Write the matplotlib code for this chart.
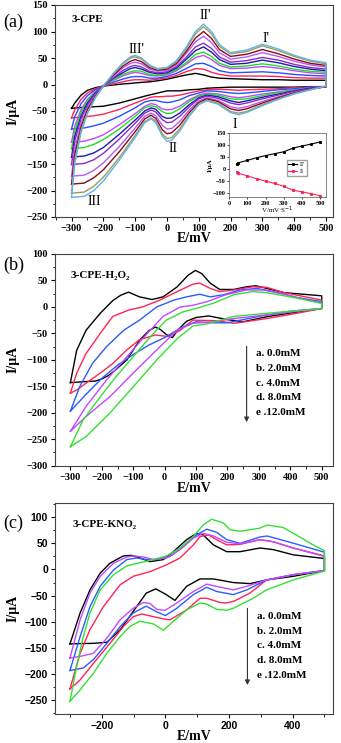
import matplotlib.pyplot as plt
from matplotlib.ticker import MultipleLocator

# ---------------- panel (a): CVs of 3-CPE at increasing scan rates ----------------
a_E_up = [-300, -290, -270, -250, -225, -200, -170, -140, -115, -100, -80, -55, -30, 0,
          30, 60, 90, 115, 140, 165, 200, 250, 300, 350, 400, 450, 500]
a_E_dn = [500, 450, 400, 350, 300, 250, 225, 200, 160, 125, 100, 70, 40, 15, 0,
          -15, -35, -50, -70, -100, -150, -200, -230, -260, -300]

a_up = [
    [-45, -35, -20, -11, -6, -3, -1, 1, 2, 3, 4, 5, 7, 10, 14, 18, 21, 18, 14, 12, 11, 10, 9, 9, 8, 8, 8],
    [-63, -48, -28, -16, -8, -3, 1, 5, 8, 9, 9, 8, 10, 12, 17, 24, 30, 29, 23, 19, 16, 16, 16, 15, 13, 12, 12],
    [-84, -61, -36, -21, -10, -3, 4, 10, 14, 15, 15, 12, 12, 15, 21, 30, 39, 40, 34, 26, 22, 23, 24, 22, 19, 17, 16],
    [-109, -79, -47, -28, -13, -3, 7, 16, 21, 23, 21, 17, 16, 18, 26, 38, 51, 55, 47, 36, 30, 31, 34, 31, 26, 22, 20],
    [-121, -87, -52, -31, -15, -3, 8, 19, 24, 26, 25, 19, 17, 20, 28, 41, 57, 61, 53, 40, 33, 35, 39, 35, 29, 25, 23],
    [-137, -98, -59, -35, -16, -3, 11, 22, 30, 32, 29, 23, 20, 22, 31, 47, 64, 71, 61, 47, 38, 40, 46, 41, 34, 29, 26],
    [-151, -107, -64, -39, -18, -3, 12, 26, 34, 36, 33, 25, 22, 24, 34, 51, 71, 78, 68, 52, 42, 45, 51, 46, 38, 32, 29],
    [-173, -122, -73, -44, -20, -3, 15, 31, 40, 42, 39, 29, 25, 27, 38, 58, 81, 91, 79, 60, 48, 52, 60, 53, 44, 37, 33],
    [-188, -133, -80, -48, -22, -3, 17, 34, 44, 47, 43, 32, 27, 29, 40, 62, 88, 100, 87, 66, 53, 57, 66, 58, 48, 40, 36],
    [-205, -144, -86, -53, -24, -3, 19, 38, 50, 52, 48, 35, 29, 31, 43, 67, 96, 109, 96, 72, 58, 62, 73, 64, 53, 44, 39],
    [-213, -150, -90, -55, -25, -3, 20, 40, 52, 55, 50, 37, 30, 32, 45, 70, 100, 114, 100, 75, 60, 65, 76, 67, 55, 46, 41],
]
a_dn = [
    [-4, -4, -5, -5, -5, -5, -5, -5, -6, -7, -9, -10, -12, -12, -12, -14, -17, -19, -22, -27, -35, -41, -42, -43, -45],
    [-4, -5, -6, -8, -9, -10, -11, -10, -9, -10, -12, -16, -20, -22, -22, -23, -23, -24, -28, -35, -47, -56, -59, -61, -63],
    [-4, -5, -8, -10, -13, -16, -17, -16, -13, -12, -16, -21, -29, -33, -34, -33, -30, -30, -33, -44, -60, -73, -78, -82, -84],
    [-4, -6, -10, -14, -18, -23, -25, -23, -18, -16, -20, -29, -41, -47, -48, -46, -38, -36, -41, -55, -76, -95, -102, -107, -109],
    [-4, -7, -11, -15, -21, -27, -28, -27, -20, -18, -22, -32, -46, -54, -55, -51, -42, -40, -44, -60, -84, -104, -113, -119, -121],
    [-4, -7, -12, -18, -24, -31, -34, -31, -23, -20, -25, -38, -54, -63, -64, -60, -47, -44, -50, -67, -94, -119, -129, -135, -137],
    [-4, -8, -13, -20, -27, -35, -38, -35, -26, -22, -27, -42, -60, -71, -72, -66, -52, -48, -54, -73, -103, -130, -142, -149, -151],
    [-4, -9, -15, -23, -32, -42, -45, -42, -30, -25, -31, -48, -70, -83, -84, -77, -59, -54, -60, -82, -117, -148, -162, -171, -173],
    [-4, -9, -16, -25, -35, -46, -49, -46, -32, -27, -34, -53, -77, -91, -93, -85, -64, -58, -65, -89, -127, -161, -176, -186, -188],
    [-3, -10, -17, -27, -38, -51, -54, -51, -35, -30, -37, -58, -84, -100, -102, -93, -69, -63, -70, -96, -138, -175, -192, -203, -205],
    [-3, -10, -18, -28, -40, -53, -57, -53, -37, -31, -38, -60, -88, -105, -107, -97, -72, -65, -72, -100, -143, -182, -200, -211, -213],
]
a_colors = ['#000000', '#ff2457', '#2450ff', '#c348ff', '#22dd22', '#1c1ca8',
            '#8a2ad0', '#b75cf0', '#8a0a22', '#9c9c5a', '#5fb3ea']

# inset: peak currents vs scan rate
inset_v = [40, 50, 100, 150, 200, 250, 300, 350, 400, 450, 500]
inset_II_prime = [22, 27, 37, 48, 57, 65, 73, 88, 97, 105, 114]
inset_II = [-13, -17, -28, -40, -50, -60, -72, -88, -95, -103, -111]

# ---------------- panel (b): 3-CPE with H2O2 ----------------
b_labels = ['a. 0.0mM', 'b. 2.0mM', 'c. 4.0mM', 'd. 8.0mM', 'e .12.0mM']
b_colors = ['#000000', '#ff2457', '#2a5cff', '#c348ff', '#33e033']
b_E_up = [
    [-300, -280, -250, -205, -165, -140, -115, -80, -40, -5, 40, 75, 98, 118, 145, 175, 220, 260, 290, 325, 380, 440, 500],
    [-300, -280, -250, -205, -165, -115, -70, -15, 40, 90, 112, 145, 175, 220, 280, 325, 380, 440, 500],
    [-300, -270, -230, -185, -130, -80, -25, 30, 70, 112, 145, 187, 240, 293, 346, 420, 500],
    [-300, -250, -185, -120, -55, -5, 50, 90, 135, 195, 260, 315, 380, 440, 500],
    [-300, -260, -205, -155, -100, -45, 5, 60, 100, 155, 220, 280, 325, 400, 500],
]
b_I_up = [
    [-143, -82, -44, -12, 12, 22, 28, 19, 14, 19, 38, 60, 69, 63, 45, 33, 33, 38, 40, 35, 27, 24, 21],
    [-163, -125, -88, -50, -18, -6, 0, 13, 29, 43, 45, 35, 29, 32, 38, 37, 27, 20, 13],
    [-197, -150, -107, -75, -44, -25, 0, 13, 19, 24, 19, 23, 32, 35, 29, 18, 10],
    [-235, -188, -138, -94, -50, -18, 0, 3, 10, 23, 32, 32, 24, 15, 7],
    [-264, -214, -170, -132, -94, -56, -25, -9, -3, 7, 23, 29, 27, 19, 7],
]
b_E_dn = [
    [500, 430, 330, 250, 200, 140, 100, 70, 40, 25, 5, -15, -30, -50, -80, -120, -160, -180, -200, -220, -250, -300],
    [500, 430, 325, 220, 165, 90, 50, 12, -30, -80, -120, -165, -205, -250, -280, -300],
    [500, 400, 300, 200, 150, 100, 50, 0, -50, -100, -150, -200, -250, -300],
    [500, 325, 220, 155, 90, 40, -25, -100, -175, -250, -300],
    [500, 325, 220, 135, 90, 40, -25, -100, -175, -250, -300],
]
b_I_dn = [
    [-3, -9, -18, -28, -24, -17, -20, -27, -45, -58, -52, -42, -38, -45, -63, -100, -121, -130, -136, -140, -141, -143],
    [-3, -11, -22, -31, -26, -25, -44, -56, -53, -62, -81, -107, -125, -144, -157, -163],
    [-3, -8, -18, -30, -30, -28, -40, -58, -72, -90, -110, -135, -165, -197],
    [-3, -15, -22, -28, -31, -44, -81, -125, -170, -207, -235],
    [-3, -12, -18, -32, -36, -60, -100, -151, -201, -245, -264],
]

# ---------------- panel (c): 3-CPE with KNO2 ----------------
c_labels = b_labels
c_colors = b_colors
c_E_up = [
    [-300, -268, -237, -205, -174, -132, -106, -80, -48, -6, 25, 67, 98, 119, 151, 193, 235, 297, 339, 402, 500],
    [-300, -268, -237, -195, -142, -101, -48, 4, 46, 88, 109, 135, 161, 193, 235, 297, 339, 402, 500],
    [-300, -268, -237, -205, -163, -121, -90, -59, -27, 15, 57, 98, 130, 161, 193, 235, 297, 320, 392, 500],
    [-300, -268, -237, -205, -163, -121, -101, -69, -38, 4, 46, 88, 119, 151, 193, 235, 297, 339, 402, 500],
    [-300, -279, -258, -237, -205, -163, -121, -80, -38, 4, 46, 88, 119, 145, 182, 203, 235, 297, 320, 371, 423, 470, 500],
]
c_I_up = [
    [-142, -83, -39, -7, 12, 26, 27, 22, 15, 19, 34, 57, 69, 66, 47, 34, 34, 41, 38, 28, 21],
    [-228, -160, -115, -71, -29, -13, -4, 9, 22, 47, 63, 66, 57, 47, 48, 57, 53, 41, 26],
    [-193, -128, -71, -32, -1, 19, 22, 19, 19, 25, 44, 66, 77, 71, 57, 50, 62, 64, 52, 33],
    [-169, -96, -45, -13, 12, 24, 26, 24, 19, 22, 38, 60, 69, 64, 52, 49, 57, 53, 41, 25],
    [-252, -185, -128, -83, -39, -10, 7, 13, 19, 26, 41, 63, 85, 96, 89, 76, 73, 79, 85, 80, 62, 45, 36],
]
c_E_dn = [
    [500, 402, 318, 266, 214, 151, 109, 67, 30, 0, -30, -60, -101, -142, -184, -226, -300],
    [500, 402, 318, 266, 214, 190, 172, 130, 109, 67, 15, -1, -38, -74, -101, -132, -174, -226, -268, -300],
    [500, 402, 318, 256, 214, 161, 130, 88, 36, 0, -30, -60, -101, -142, -184, -226, -258, -300],
    [500, 402, 318, 256, 214, 151, 130, 88, 36, -1, -27, -48, -69, -101, -142, -184, -226, -268, -300],
    [500, 402, 318, 276, 214, 193, 161, 130, 109, 67, 25, -6, -38, -80, -110, -142, -184, -226, -268, -300],
]
c_I_dn = [
    [-2, -13, -20, -27, -25, -18, -18, -32, -59, -47, -37, -45, -80, -115, -139, -141, -142],
    [-2, -10, -20, -45, -61, -64, -63, -55, -55, -77, -96, -95, -90, -85, -90, -109, -141, -179, -211, -228],
    [-2, -10, -20, -39, -48, -42, -34, -48, -74, -88, -80, -70, -83, -109, -141, -172, -188, -193],
    [-2, -10, -20, -32, -39, -31, -28, -42, -64, -78, -76, -65, -63, -74, -96, -131, -160, -166, -169],
    [-3, -20, -39, -55, -74, -78, -76, -66, -64, -77, -99, -116, -104, -99, -108, -128, -160, -198, -230, -252],
]

plt.rcParams['font.family'] = ['Liberation Serif', 'DejaVu Serif']
plt.rcParams['axes.linewidth'] = 0.8

W, H = 341, 743
fig = plt.figure(figsize=(W / 100, H / 100), dpi=100)


def box(l, t, r, b):
    return [l / W, 1 - b / H, (r - l) / W, (b - t) / H]


def style(ax, xlim, ylim, xmaj, xmin, ymaj, ymin, tickfont, xlab_y):
    ax.set_xlim(*xlim)
    ax.set_ylim(*ylim)
    ax.xaxis.set_major_locator(MultipleLocator(xmaj))
    ax.xaxis.set_minor_locator(MultipleLocator(xmin))
    ax.yaxis.set_major_locator(MultipleLocator(ymaj))
    ax.yaxis.set_minor_locator(MultipleLocator(ymin))
    ax.tick_params(which='major', direction='out', length=3, width=0.8, pad=2)
    ax.tick_params(which='minor', direction='out', length=1.8, width=0.6)
    for lab in ax.get_xticklabels() + ax.get_yticklabels():
        lab.set_family(tickfont)
        lab.set_fontweight('bold')
        lab.set_fontsize(7.5)
    ax.set_xlabel('E/mV', fontsize=10, fontweight='bold', labelpad=0)
    ax.set_ylabel('I/\u03bcA', fontsize=10, fontweight='bold')
    ax.xaxis.set_label_coords(0.5, xlab_y)
    ax.yaxis.set_label_coords(-0.127, 0.5)
    for s in ax.spines.values():
        s.set_color('#444444')


# ---- (a)
axa = fig.add_axes(box(55, 5, 333, 217))
for up, dn, col in zip(a_up, a_dn, a_colors):
    axa.plot(a_E_up + a_E_dn, up + dn, color=col, lw=1.0)
style(axa, (-352, 522), (-250, 150), 100, 50, 50, 25, ['Liberation Serif'], -0.07)
axa.text(-300, 122, '3-CPE', fontsize=8, fontweight='bold', va='center')
for txt, x, y in [("III'", -96, 66), ("II'", 122, 130), ("I'", 313, 86),
                  ('I', 213, -76), ('II', 19, -120), ('III', -228, -221)]:
    axa.text(x, y, txt, fontsize=10, ha='center', va='center')
fig.text(0.01, 1 - 22 / H, '(a)', fontsize=13, va='center')

axi = fig.add_axes(box(229.3, 132.7, 326, 197.3))
axi.plot(inset_v, inset_II_prime, color='black', lw=0.8, marker='s', ms=1.2, label="II'")
axi.plot(inset_v, inset_II, color='#ff2457', lw=0.8, marker='s', ms=1.2, label='II')
axi.set_xlim(0, 533)
axi.set_ylim(-118, 153)
axi.xaxis.set_major_locator(MultipleLocator(100))
axi.yaxis.set_major_locator(MultipleLocator(50))
axi.tick_params(direction='out', length=1.5, width=0.5, pad=1, labelsize=4.5)
for lab in axi.get_xticklabels() + axi.get_yticklabels():
    lab.set_fontweight('bold')
for s in axi.spines.values():
    s.set_linewidth(0.5)
    s.set_color('#555555')
axi.set_xlabel('V/mV\u00b7S$^{-1}$', fontsize=5, labelpad=-1)
axi.set_ylabel('I/\u03bcA', fontsize=5, fontweight='bold', labelpad=0)
axi.legend(loc='lower left', bbox_to_anchor=(0.56, 0.28), fontsize=4.5, handlelength=1.4,
           frameon=True, fancybox=False, edgecolor='#888888', borderpad=0.3,
           labelspacing=0.3, handletextpad=0.4)

# ---- (b)
axb = fig.add_axes(box(55, 254, 333, 465.7))
for eu, iu, ed, idn, col in zip(b_E_up, b_I_up, b_E_dn, b_I_dn, b_colors):
    axb.plot(eu + ed, iu + idn, color=col, lw=1.0)
style(axb, (-349, 536), (-300, 100), 100, 50, 50, 25, ['Liberation Serif'], -0.077)
axb.text(-300, 60, '3-CPE-H\u2082O\u2082', fontsize=8, fontweight='bold', va='center')
axb.annotate('', xy=(261, -223), xytext=(261, -69),
             arrowprops=dict(arrowstyle='-|>', color='#333333', lw=0.8, mutation_scale=7))
for k, lab in enumerate(b_labels):
    axb.text(291, -88 - 28 * k, lab, fontsize=8, fontweight='bold', va='center')
fig.text(0.01, 1 - 265 / H, '(b)', fontsize=13, va='center')

# ---- (c)
axc = fig.add_axes(box(55, 503, 333, 714))
for eu, iu, ed, idn, col in zip(c_E_up, c_I_up, c_E_dn, c_I_dn, c_colors):
    axc.plot(eu + ed, iu + idn, color=col, lw=1.0)
style(axc, (-347, 527), (-276, 127), 200, 100, 50, 25, ['Liberation Sans'], -0.078)
axc.text(-291, 85, '3-CPE-KNO\u2082', fontsize=8, fontweight='bold', va='center')
axc.annotate('', xy=(258, -226), xytext=(258, -69),
             arrowprops=dict(arrowstyle='-|>', color='#333333', lw=0.8, mutation_scale=7))
for k, lab in enumerate(c_labels):
    axc.text(287, -90 - 28 * k, lab, fontsize=8, fontweight='bold', va='center')
fig.text(0.01, 1 - 523 / H, '(c)', fontsize=13, va='center')

fig.savefig('out.png', dpi=100)
